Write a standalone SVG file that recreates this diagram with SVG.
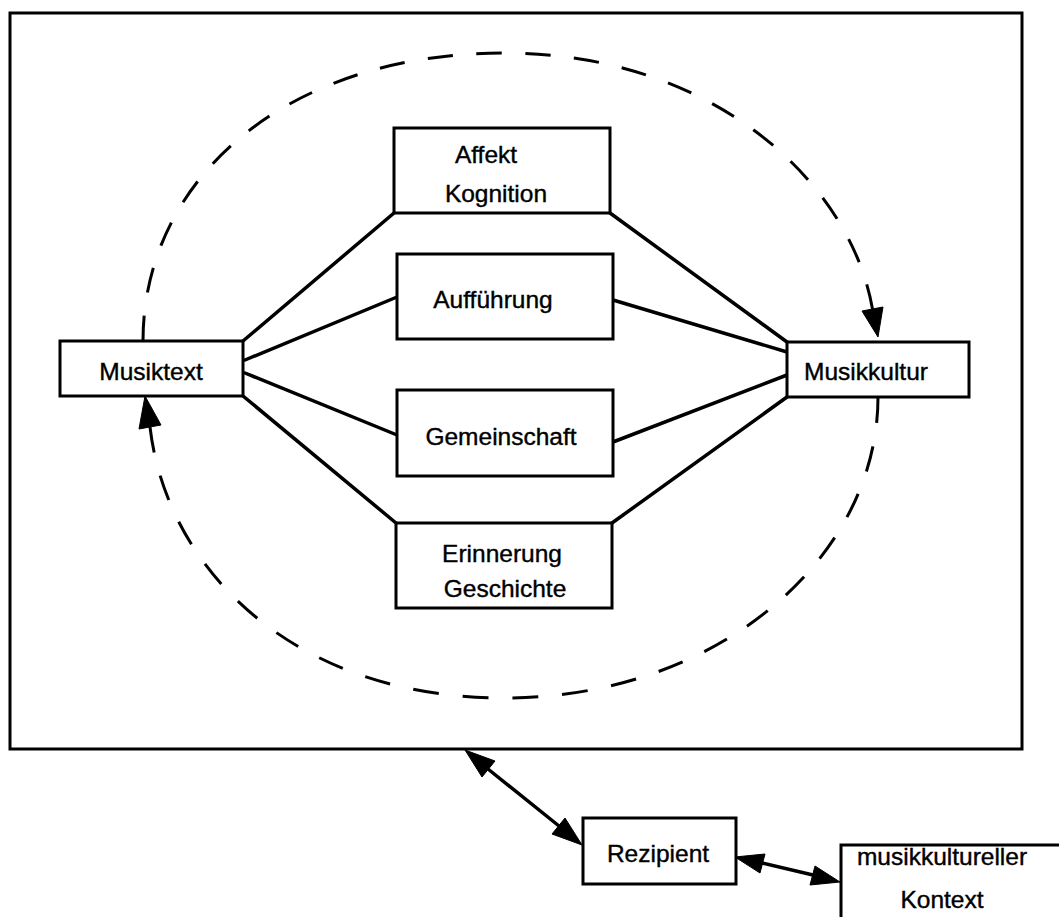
<svg xmlns="http://www.w3.org/2000/svg" width="1059" height="917" viewBox="0 0 1059 917">
  <style>
    .frame { fill: none; stroke: #000; stroke-width: 3; }
    .box { fill: #fff; stroke: #000; stroke-width: 3; }
    .link { fill: none; stroke: #000; stroke-width: 3.5; stroke-linecap: round; }
    .cycle { fill: none; stroke: #000; stroke-width: 3; stroke-dasharray: 26 24; }
    .head { fill: #000; stroke: #000; stroke-width: 1; stroke-linejoin: miter; }
    .lbl { font-family: "Liberation Sans", Arial, Helvetica, sans-serif; font-size: 24.5px; fill: #000; stroke: #000; stroke-width: 0.4; text-anchor: middle; }
  </style>

  <!-- outer frame -->
  <rect id="frame" class="frame" x="10" y="13" width="1012" height="736"/>

  <!-- circular flow and links -->
  <g id="connectors">
    <!-- dashed cycle: upper half (Musiktext -> Musikkultur) -->
    <path class="cycle" pathLength="1026" d="M143,341 C143,180 285,53 505,53 C710,53 850,180 872.5,309"/>
    <polygon class="head" points="878,337 862,311 883,307"/>
    <!-- dashed cycle: lower half (Musikkultur -> Musiktext) -->
    <path class="cycle" pathLength="1026" d="M878,397 C878,560 715,698 505,698 C290,698 166,566 150,427"/>
    <polygon class="head" points="145,396 161,425 139,429"/>

    <!-- Musiktext to the four mediating boxes -->
    <line class="link" x1="243" y1="341" x2="394" y2="213"/>
    <line class="link" x1="245" y1="360" x2="397" y2="297"/>
    <line class="link" x1="245" y1="373" x2="397" y2="435"/>
    <line class="link" x1="243" y1="396" x2="396" y2="523"/>
    <!-- mediating boxes to Musikkultur -->
    <line class="link" x1="610" y1="213" x2="787" y2="342"/>
    <line class="link" x1="613" y1="300" x2="787" y2="352"/>
    <line class="link" x1="613" y1="442" x2="787" y2="375"/>
    <line class="link" x1="612" y1="523" x2="787" y2="397"/>

    <!-- frame <-> Rezipient -->
    <line class="link" x1="488" y1="769" x2="559" y2="826"/>
    <polygon class="head" points="465,750 482,777 495,761"/>
    <polygon class="head" points="582,845 552,834 565,818"/>
    <!-- Rezipient <-> musikkultureller Kontext -->
    <line class="link" x1="762" y1="863" x2="813" y2="875"/>
    <polygon class="head" points="735,857 760,873 765,854"/>
    <polygon class="head" points="840,882 810,885 815,866"/>
  </g>

  <g id="musiktext">
    <rect class="box" x="60" y="341" width="183" height="55"/>
    <text class="lbl" x="151" y="380">Musiktext</text>
  </g>

  <g id="musikkultur">
    <rect class="box" x="787" y="342" width="182" height="55"/>
    <text class="lbl" x="866" y="380">Musikkultur</text>
  </g>

  <g id="affekt-kognition">
    <rect class="box" x="394" y="128" width="216" height="85"/>
    <text class="lbl" x="486" y="163">Affekt</text>
    <text class="lbl" x="496" y="202">Kognition</text>
  </g>

  <g id="auffuehrung">
    <rect class="box" x="397" y="254" width="216" height="85"/>
    <text class="lbl" x="493" y="308">Aufführung</text>
  </g>

  <g id="gemeinschaft">
    <rect class="box" x="397" y="390" width="216" height="86"/>
    <text class="lbl" x="501" y="445">Gemeinschaft</text>
  </g>

  <g id="erinnerung-geschichte">
    <rect class="box" x="396" y="523" width="216" height="85"/>
    <text class="lbl" x="502" y="562">Erinnerung</text>
    <text class="lbl" x="505" y="597">Geschichte</text>
  </g>

  <g id="rezipient">
    <rect class="box" x="583" y="818" width="153" height="66"/>
    <text class="lbl" x="658" y="862">Rezipient</text>
  </g>

  <g id="kontext">
    <rect class="box" x="841" y="845" width="260" height="100"/>
    <text class="lbl" x="942" y="865">musikkultureller</text>
    <text class="lbl" x="942" y="908">Kontext</text>
  </g>
</svg>
